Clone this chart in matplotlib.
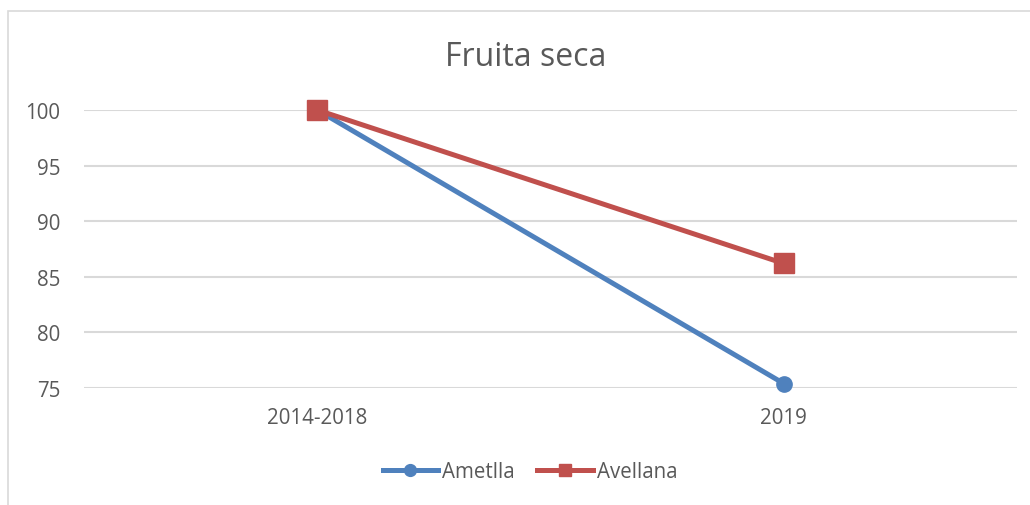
import matplotlib.pyplot as plt
from matplotlib.patches import Rectangle

# Data
categories = ['2014-2018', '2019']
ametlla = [100, 75.4]
avellana = [100, 86.2]
y_ticks = [75, 80, 85, 90, 95, 100]

plt.rcParams['font.family'] = ['Open Sans', 'DejaVu Sans']
text_color = '#595959'
grid_color = '#D9D9D9'

fig = plt.figure(figsize=(10.3, 5.06), dpi=100)
ax = fig.add_axes([84 / 1030, 1 - 389 / 506, (1017 - 84) / 1030, (389 - 111) / 506])

x = range(len(categories))
ax.plot(x, ametlla, color='#4F81BD', linewidth=3.6, marker='o', markersize=11,
        label='Ametlla', clip_on=False, zorder=3)
ax.plot(x, avellana, color='#C0504D', linewidth=3.6, marker='s', markersize=14,
        label='Avellana', clip_on=False, zorder=3)

ax.set_xlim(-0.5, 1.5)
ax.set_ylim(75, 100)
ax.set_yticks(y_ticks)
ax.set_xticks(list(x))
ax.set_xticklabels(categories)
ax.tick_params(axis='both', length=0, colors=text_color, labelsize=14.8)
ax.tick_params(axis='y', pad=17)
ax.tick_params(axis='x', pad=14)
ax.grid(axis='y', color=grid_color, linewidth=1.5)
ax.set_axisbelow(True)
for s in ax.spines.values():
    s.set_visible(False)

fig.text(526 / 1030, 1 - 57 / 506, 'Fruita seca', ha='center', va='center',
         fontsize=23, color=text_color)

leg = fig.legend(loc='center', bbox_to_anchor=(530 / 1030, 1 - 473 / 506), ncol=2,
                 frameon=False, fontsize=14.8, labelcolor=text_color, handlelength=2.7,
                 handletextpad=0.2, columnspacing=1.1)
for h in leg.legend_handles:
    h.set_markersize(8.5)

# chart area border (right and bottom run off the picture)
fig.patches.append(Rectangle((8 / 1030, -0.1), 1.2, 1 - 12 / 506 + 0.1,
                             transform=fig.transFigure, fill=False,
                             edgecolor=grid_color, linewidth=1.2))

fig.savefig('out.png', dpi=100)
